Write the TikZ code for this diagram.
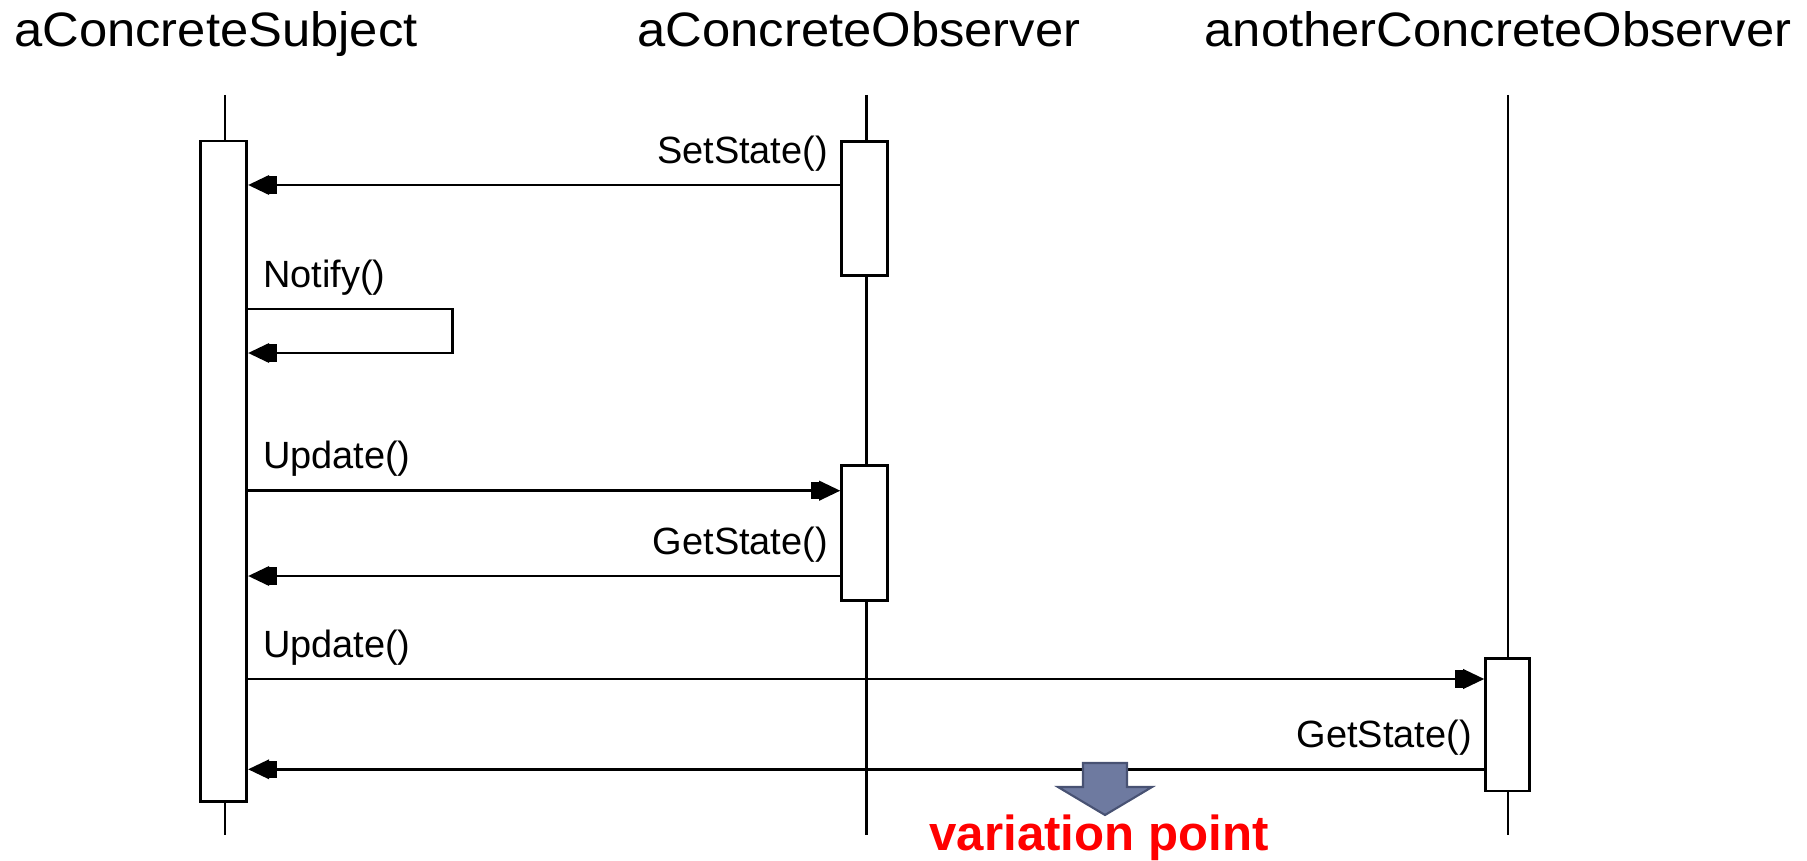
\documentclass[tikz,border=0pt]{standalone}
\usepackage{fontspec}
\setmainfont{Liberation Sans}
\usetikzlibrary{arrows.meta, positioning, calc}

\definecolor{vpfill}{RGB}{110,122,160}
\definecolor{vpline}{RGB}{72,82,115}

\newcommand{\widetitle}[1]{\scalebox{1.05}[1]{#1}}

\tikzset{
    title/.style={font=\fontsize{27.5}{32}\selectfont, anchor=base, inner sep=0pt},
    lbl/.style={font=\fontsize{21.6}{26}\selectfont, inner sep=0pt},
    lblL/.style={lbl, anchor=base west, xshift=0.27cm, yshift=0.44cm},
    lblR/.style={lbl, anchor=base east, xshift=-0.22cm, yshift=0.44cm},
    life/.style={draw, line width=1.6pt},
    act/.style={draw, fill=white, line width=1.6pt, minimum width=0.92cm, inner sep=0pt},
    msg/.style={draw, line width=1.6pt, -{Rectangle[length=4.5pt,width=10pt]Triangle[length=12pt,width=11pt]}},
    vparrow/.style={fill=vpfill, draw=vpline, line width=1.2pt, line join=miter},
}

\begin{document}
\begin{tikzpicture}[x=0.02cm, y=-0.02cm]
    \useasboundingbox (0,0) rectangle (1807,861);

    % Objects
    \node[title] (subj) at (216,47) {\widetitle{aConcreteSubject}};
    \node[title] (obs) at (859,47) {\widetitle{aConcreteObserver}};
    \node[title] (other) at (1498,47) {\widetitle{anotherConcreteObserver}};

    % Lifelines
    \draw[life] (225,95) -- (225,835);
    \draw[life] (866.7,95) -- (866.7,835);
    \draw[life] (1508,95) -- (1508,835);

    % Activations
    \node[act, minimum height=13.22cm] (subjact) at (223.7,471.4) {};
    \node[act, minimum height=2.69cm] (obsact1) at (864.7,208.4) {};
    \node[act, minimum height=2.70cm] (obsact2) at (864.7,533) {};
    \node[act, minimum width=0.87cm, minimum height=2.65cm] (otheract) at (1507.4,724.7) {};

    % Message levels
    \coordinate (m1) at (0,185);
    \coordinate (m2) at (0,309);
    \coordinate (m3) at (0,353);
    \coordinate (m4) at (0,490.7);
    \coordinate (m5) at (0,576);
    \coordinate (m6) at (0,679);
    \coordinate (m7) at (0,769.3);

    % Messages
    \draw[msg] (obsact1.west |- m1) -- node[lblR, pos=0] {SetState()} (subjact.east |- m1);
    \draw[msg] (subjact.east |- m2) node[lblL] {Notify()} -- ++(204,0) -- ++(0,44) -- (subjact.east |- m3);
    \draw[msg] (subjact.east |- m4) -- node[lblL, pos=0] {Update()} (obsact2.west |- m4);
    \draw[msg] (obsact2.west |- m5) -- node[lblR, pos=0] {GetState()} (subjact.east |- m5);
    \draw[msg] (subjact.east |- m6) -- node[lblL, pos=0] {Update()} (otheract.west |- m6);
    \draw[msg] (otheract.west |- m7) -- node[lblR, pos=0] {GetState()} (subjact.east |- m7);

    % Variation point
    \draw[vparrow] (1083,763) -- (1127,763) -- (1127,787) -- (1152,787) -- (1105,815)
        -- (1058,787) -- (1083,787) -- cycle;
    \node[font=\fontsize{28}{32}\selectfont\bfseries, text=red, anchor=base, inner sep=0pt]
        (vp) at (1099,850) {variation point};
\end{tikzpicture}
\end{document}
